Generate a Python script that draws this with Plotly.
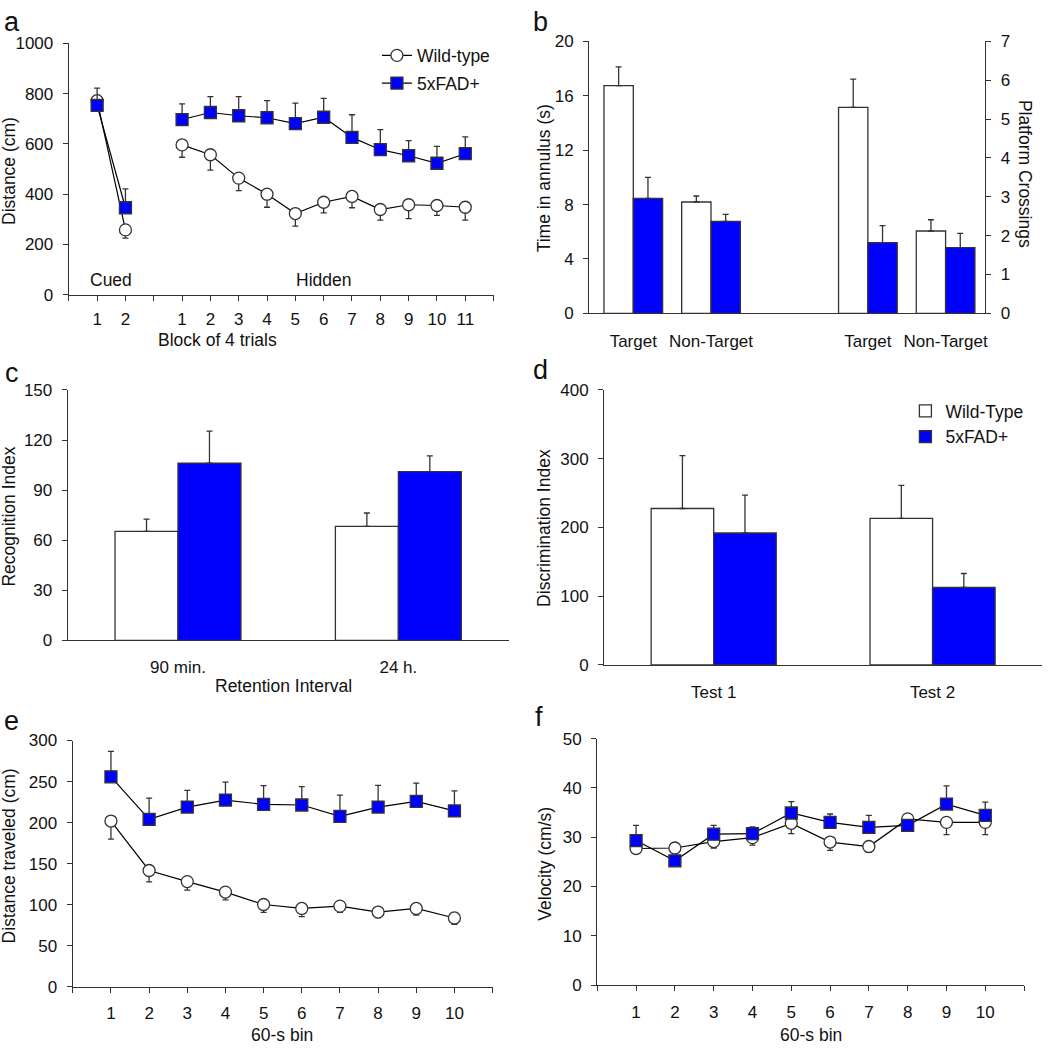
import plotly.graph_objects as go

W, H = 1049, 1050
FONT = "Liberation Sans, Arial, sans-serif"
BLUE = "#0000ff"
AX = "#333333"

# ---------------- data ----------------
# Panel a: water maze distance
cued_labels = ["1", "2"]
hidden_labels = ["1", "2", "3", "4", "5", "6", "7", "8", "9", "10", "11"]
cued_wt = [772, 258]
cued_wt_err = [40, 33]
cued_tg = [753, 346]
cued_tg_err = [69, 75]
hid_wt = [596, 557, 464, 400, 323, 368, 391, 339, 358, 355, 348]
hid_wt_err = [49, 61, 50, 52, 50, 42, 45, 42, 55, 39, 51]
hid_tg = [697, 725, 712, 704, 681, 706, 626, 577, 553, 523, 561]
hid_tg_err = [62, 63, 76, 68, 81, 75, 90, 80, 60, 67, 67]

# Panel b: probe trial
probe_cats = ["Target", "Non-Target"]
time_wt = [16.75, 8.19]
time_wt_err = [1.37, 0.44]
time_tg = [8.45, 6.77]
time_tg_err = [1.55, 0.51]
cross_wt = [5.30, 2.12]
cross_wt_err = [0.73, 0.29]
cross_tg = [1.82, 1.69]
cross_tg_err = [0.44, 0.37]

# Panel c: recognition
recog_cats = ["90 min.", "24 h."]
recog_wt = [65.3, 68.3]
recog_wt_err = [7.3, 8.0]
recog_tg = [106.2, 101.1]
recog_tg_err = [19.2, 9.4]

# Panel d: discrimination
disc_cats = ["Test 1", "Test 2"]
disc_wt = [227.6, 213.3]
disc_wt_err = [76.9, 48.0]
disc_tg = [191.9, 112.6]
disc_tg_err = [55.1, 20.4]

# Panel e: distance traveled per bin
bins = [1, 2, 3, 4, 5, 6, 7, 8, 9, 10]
dist_tg = [255.8, 204.0, 219.0, 227.5, 222.3, 221.5, 207.6, 219.0, 225.9, 214.3]
dist_tg_err = [31.1, 25.9, 20.4, 21.9, 22.7, 22.3, 25.9, 26.4, 22.3, 24.3]
dist_wt = [202.0, 141.8, 128.3, 115.5, 100.4, 95.6, 98.4, 91.2, 95.6, 84.0]
dist_wt_err = [22.0, 13.9, 10.4, 9.5, 9.6, 9.9, 7.6, 6.7, 8.0, 7.9]

# Panel f: velocity per bin
vel_tg = [29.3, 25.2, 30.6, 30.7, 34.9, 33.0, 32.0, 32.4, 36.7, 34.4]
vel_tg_err = [3.1, 0.8, 1.8, 1.4, 2.3, 1.7, 2.4, 1.0, 3.7, 2.7]
vel_wt = [27.7, 27.8, 29.1, 29.9, 32.8, 29.0, 28.1, 33.7, 33.0, 33.0]
vel_wt_err = [1.0, 0.8, 1.3, 1.5, 2.1, 1.7, 1.2, 1.0, 2.5, 2.5]

# ---------------- helpers ----------------
def dom_x(a, b):
    return [a / W, b / W]

def dom_y(top, bottom):
    return [1 - bottom / H, 1 - top / H]

def err_up(vals):
    return dict(type="data", symmetric=False, array=vals, arrayminus=[0] * len(vals),
                color=AX, thickness=1.3, width=3)

def err_down(vals):
    return dict(type="data", symmetric=False, array=[0] * len(vals), arrayminus=vals,
                color=AX, thickness=1.3, width=3)

WT_MARK = dict(symbol="circle", size=12, color="white", line=dict(color=AX, width=1.3))
TG_MARK = dict(symbol="square", size=12, color=BLUE, line=dict(color=AX, width=1.3))
LINE = dict(color="black", width=1.2)

fig = go.Figure()

# ---------------- panel a ----------------
cued_x = [i + 1 for i in range(len(cued_labels))]
hid_x = [i + 4 for i in range(len(hidden_labels))]
fig.add_trace(go.Scatter(x=cued_x, y=cued_wt, mode="lines+markers", line=LINE, marker=WT_MARK,
                         error_y=err_down(cued_wt_err), name="Wild-type", legendgroup="wt",
                         showlegend=True, legend="legend", xaxis="x", yaxis="y"))
fig.add_trace(go.Scatter(x=hid_x, y=hid_wt, mode="lines+markers", line=LINE, marker=WT_MARK,
                         error_y=err_down(hid_wt_err), name="Wild-type", legendgroup="wt",
                         showlegend=False, xaxis="x", yaxis="y"))
fig.add_trace(go.Scatter(x=cued_x, y=cued_tg, mode="lines+markers", line=LINE, marker=TG_MARK,
                         error_y=err_up(cued_tg_err), name="5xFAD+", legendgroup="tg",
                         showlegend=True, legend="legend", xaxis="x", yaxis="y"))
fig.add_trace(go.Scatter(x=hid_x, y=hid_tg, mode="lines+markers", line=LINE, marker=TG_MARK,
                         error_y=err_up(hid_tg_err), name="5xFAD+", legendgroup="tg",
                         showlegend=False, xaxis="x", yaxis="y"))

# ---------------- panel b ----------------
BAR_LINE = dict(color=AX, width=1.3)
cat_pos_left = [1.5 + 2.65 * i for i in range(len(probe_cats))]
cat_pos_right = [9.5 + 2.65 * i for i in range(len(probe_cats))]
fig.add_trace(go.Bar(x=[p - 0.5 for p in cat_pos_left], y=time_wt, width=1,
                     marker=dict(color="white", line=BAR_LINE), error_y=err_up(time_wt_err),
                     showlegend=False, xaxis="x2", yaxis="y2"))
fig.add_trace(go.Bar(x=[p + 0.5 for p in cat_pos_left], y=time_tg, width=1,
                     marker=dict(color=BLUE, line=BAR_LINE), error_y=err_up(time_tg_err),
                     showlegend=False, xaxis="x2", yaxis="y2"))
fig.add_trace(go.Bar(x=[p - 0.5 for p in cat_pos_right], y=cross_wt, width=1,
                     marker=dict(color="white", line=BAR_LINE), error_y=err_up(cross_wt_err),
                     showlegend=False, xaxis="x2", yaxis="y7"))
fig.add_trace(go.Bar(x=[p + 0.5 for p in cat_pos_right], y=cross_tg, width=1,
                     marker=dict(color=BLUE, line=BAR_LINE), error_y=err_up(cross_tg_err),
                     showlegend=False, xaxis="x2", yaxis="y7"))

# ---------------- panel c ----------------
grp_pos = [1.75, 5.25]
fig.add_trace(go.Bar(x=[p - 0.5 for p in grp_pos], y=recog_wt, width=1,
                     marker=dict(color="white", line=BAR_LINE), error_y=err_up(recog_wt_err),
                     showlegend=False, xaxis="x3", yaxis="y3"))
fig.add_trace(go.Bar(x=[p + 0.5 for p in grp_pos], y=recog_tg, width=1,
                     marker=dict(color=BLUE, line=BAR_LINE), error_y=err_up(recog_tg_err),
                     showlegend=False, xaxis="x3", yaxis="y3"))

# ---------------- panel d ----------------
fig.add_trace(go.Bar(x=[p - 0.5 for p in grp_pos], y=disc_wt, width=1, name="Wild-Type",
                     marker=dict(color="white", line=BAR_LINE), error_y=err_up(disc_wt_err),
                     showlegend=True, legend="legend2", xaxis="x4", yaxis="y4"))
fig.add_trace(go.Bar(x=[p + 0.5 for p in grp_pos], y=disc_tg, width=1, name="5xFAD+",
                     marker=dict(color=BLUE, line=BAR_LINE), error_y=err_up(disc_tg_err),
                     showlegend=True, legend="legend2", xaxis="x4", yaxis="y4"))

# ---------------- panel e ----------------
fig.add_trace(go.Scatter(x=bins, y=dist_wt, mode="lines+markers", line=LINE, marker=WT_MARK,
                         error_y=err_down(dist_wt_err), showlegend=False, xaxis="x5", yaxis="y5"))
fig.add_trace(go.Scatter(x=bins, y=dist_tg, mode="lines+markers", line=LINE, marker=TG_MARK,
                         error_y=err_up(dist_tg_err), showlegend=False, xaxis="x5", yaxis="y5"))

# ---------------- panel f ----------------
fig.add_trace(go.Scatter(x=bins, y=vel_wt, mode="lines+markers", line=LINE, marker=WT_MARK,
                         error_y=err_down(vel_wt_err), showlegend=False, xaxis="x6", yaxis="y6"))
fig.add_trace(go.Scatter(x=bins, y=vel_tg, mode="lines+markers", line=LINE, marker=TG_MARK,
                         error_y=err_up(vel_tg_err), showlegend=False, xaxis="x6", yaxis="y6"))

# ---------------- axes ----------------
TICKFONT = dict(family=FONT, size=17, color="#111")

def yax(domain, anchor, rng, dtick, side="left"):
    return dict(domain=domain, anchor=anchor, range=rng, dtick=dtick, tick0=0,
                showline=True, linecolor=AX, linewidth=1.3, ticks="outside", ticklen=5,
                tickcolor=AX, tickwidth=1.3, showgrid=False, zeroline=False,
                tickfont=TICKFONT, side=side, ticklabelstandoff=6, fixedrange=True)

def xax(domain, anchor, rng, tickvals, ticktext, ticks="outside", standoff=4):
    return dict(domain=domain, anchor=anchor, range=rng, tickvals=tickvals, ticktext=ticktext,
                showline=True, linecolor=AX, linewidth=1.3, ticks=ticks, ticklen=5,
                tickcolor=AX, tickwidth=1.3, showgrid=False, zeroline=False,
                tickfont=TICKFONT, ticklabelstandoff=standoff, fixedrange=True)

a_tickvals = list(range(0, 16))
a_ticktext = [""] * 16
for i, lab in enumerate(cued_labels):
    a_ticktext[cued_x[i]] = lab
for i, lab in enumerate(hidden_labels):
    a_ticktext[hid_x[i]] = lab

e_tickvals = list(range(0, 12))
e_ticktext = [""] + [str(b) for b in bins] + [""]

CATFONT = dict(family=FONT, size=17, color="#111")

layout = dict(
    width=W, height=H, margin=dict(l=0, r=0, t=0, b=0),
    paper_bgcolor="white", plot_bgcolor="white", barmode="overlay",
    font=dict(family=FONT, size=17, color="#111"),
    xaxis=xax(dom_x(69, 495), "y", [0, 15], a_tickvals, a_ticktext, standoff=4),
    yaxis=yax(dom_y(35, 291), "x", [0, 1000], 200),
    xaxis2=dict(xax(dom_x(591, 988), "y2", [0, 13.5], cat_pos_left + cat_pos_right,
                    probe_cats + probe_cats, ticks="", standoff=12), tickfont=CATFONT),
    yaxis2=yax(dom_y(33, 310), "x2", [0, 20], 4),
    yaxis7=dict(yax(dom_y(33, 310), "x2", [0, 7], 1, side="right"), overlaying="y2"),
    xaxis3=dict(xax(dom_x(68, 510), "y3", [0, 7], grp_pos, recog_cats, ticks="", standoff=11),
                tickfont=CATFONT),
    yaxis3=yax(dom_y(388, 643), "x3", [0, 150], 30),
    xaxis4=dict(xax(dom_x(606, 1045), "y4", [0, 7], grp_pos, disc_cats, ticks="", standoff=12),
                tickfont=CATFONT),
    yaxis4=yax(dom_y(388, 668), "x4", [0, 400], 100),
    xaxis5=xax(dom_x(73, 494), "y5", [0, 11], e_tickvals, e_ticktext, standoff=5),
    yaxis5=yax(dom_y(745, 996), "x5", [0, 300], 50),
    xaxis6=xax(dom_x(599, 1027), "y6", [0, 11], e_tickvals, e_ticktext, standoff=6),
    yaxis6=yax(dom_y(743, 994), "x6", [0, 50], 10),
    legend=dict(x=378 / W, y=1 - 29 / H, xanchor="left", yanchor="top",
                font=dict(family=FONT, size=17.5, color="#111"), bgcolor="rgba(0,0,0,0)",
                itemwidth=30, tracegroupgap=2),
    legend2=dict(x=908 / W, y=1 - 391 / H, xanchor="left", yanchor="top",
                 font=dict(family=FONT, size=17.5, color="#111"), bgcolor="rgba(0,0,0,0)",
                 itemwidth=30),
)
fig.update_layout(**layout)

# ---------------- text annotations ----------------
TITLEFONT = dict(family=FONT, size=17.5, color="#111")
ann = []

def ptext(text, x, y, size=17.5, angle=0):
    ann.append(dict(text=text, x=x / W, y=1 - y / H, xref="paper", yref="paper",
                    showarrow=False, textangle=angle, xanchor="center", yanchor="middle",
                    font=dict(family=FONT, size=size, color="#111")))

# panel letters
for letter, x, y in [("a", 12, 13), ("b", 542, 13), ("c", 12, 371),
                     ("d", 542, 368), ("e", 12, 725), ("f", 541, 721)]:
    ptext(letter, x, y, size=27)

# axis titles
ptext("Distance (cm)", 9, 165, angle=-90)
ptext("Block of 4 trials", 218, 337)
ptext("Time in annulus (s)", 545, 172, angle=-90)
ptext("Platform Crossings", 1028, 168, angle=90)
ptext("Recognition Index", 9, 517, angle=-90)
ptext("Retention Interval", 284, 689)
ptext("Discrimination Index", 546, 528, angle=-90)
ptext("Distance traveled (cm)", 9, 862, angle=-90)
ptext("60-s bin", 283, 1045)
ptext("Velocity (cm/s)", 547, 870, angle=-90)
ptext("60-s bin", 813, 1045)

# in-plot labels for panel a
ann.append(dict(text="Cued", x=1.5, y=59, xref="x", yref="y", showarrow=False,
                font=TITLEFONT))
ann.append(dict(text="Hidden", x=9, y=59, xref="x", yref="y", showarrow=False,
                font=TITLEFONT))

fig.update_layout(annotations=ann)
fig.write_html("out.html", config={"displayModeBar": False},
               post_script="document.body.style.margin='0px';")
